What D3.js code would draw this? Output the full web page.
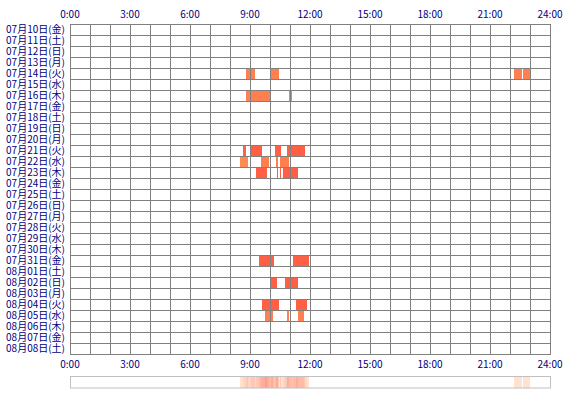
<!DOCTYPE html>
<html><head><meta charset="utf-8">
<script src="https://cdn.jsdelivr.net/npm/d3@7"></script>
<style>
html,body{margin:0;padding:0;background:#fff;}
svg{display:block;}
text{font-family:"Noto Sans CJK JP","Noto Sans",sans-serif;fill:#000080;}
</style></head>
<body>
<svg id="c" width="570" height="400"></svg>
<script>
// ---- data ----
const days = ["07月10日(金)","07月11日(土)","07月12日(日)","07月13日(月)","07月14日(火)","07月15日(水)",
  "07月16日(木)","07月17日(金)","07月18日(土)","07月19日(日)","07月20日(月)","07月21日(火)","07月22日(水)",
  "07月23日(木)","07月24日(金)","07月25日(土)","07月26日(日)","07月27日(月)","07月28日(火)","07月29日(水)",
  "07月30日(木)","07月31日(金)","08月01日(土)","08月02日(日)","08月03日(月)","08月04日(火)","08月05日(水)",
  "08月06日(木)","08月07日(金)","08月08日(土)"];
const hourTicks = ["0:00","3:00","6:00","9:00","12:00","15:00","18:00","21:00","24:00"];
// sessions: day label, start, end, tone level
const sessionDay   = ["07月14日(火)","07月14日(火)","07月14日(火)","07月14日(火)",
  "07月16日(木)","07月16日(木)",
  "07月21日(火)","07月21日(火)","07月21日(火)","07月21日(火)",
  "07月22日(水)","07月22日(水)","07月22日(水)","07月22日(水)",
  "07月23日(木)","07月23日(木)","07月23日(木)","07月23日(木)",
  "07月31日(金)","07月31日(金)",
  "08月02日(日)","08月02日(日)",
  "08月04日(火)","08月04日(火)",
  "08月05日(水)","08月05日(水)","08月05日(水)"];
const sessionStart = ["08:48","10:02","22:12","22:39",
  "08:48","10:57",
  "08:39","09:03","10:15","10:51",
  "08:30","09:33","10:18","10:30",
  "09:18","10:21","10:30","10:39",
  "09:27","11:09",
  "10:03","10:45",
  "09:36","11:18",
  "09:45","10:51","11:24"];
const sessionEnd   = ["09:15","10:27","22:36","23:00",
  "10:00","11:06",
  "08:48","09:36","10:33","11:45",
  "08:54","09:57","10:24","10:57",
  "09:51","10:24","10:33","11:24",
  "10:12","11:57",
  "10:21","11:24",
  "10:27","11:51",
  "10:09","10:57","11:42"];
const sessionTone  = [1,1,1,1, 1,1, 3,3,3,3, 0,1,1,1, 3,3,3,3, 3,3, 3,3, 3,3, 1,1,1];

// ---- drawing ----
const svg = d3.select("#c");
const toMin = s => { const [h,m] = s.split(":").map(Number); return h*60+m; };
const x = d3.scaleLinear().domain([0, 1440]).range([70, 550]);
const y = d3.scaleBand().domain(days).range([24, 354]).padding(0);
const tone = d3.scaleOrdinal().domain([0,1,2,3]).range(["#ff8a52","#ff7f50","#ff6a4a","#ff5f45"]);

const sessions = sessionDay.map((d,i)=>({day:d, s:toMin(sessionStart[i]), e:toMin(sessionEnd[i]), t:sessionTone[i]}));

svg.append("g").selectAll("rect").data(sessions).join("rect")
  .attr("x", d=>x(d.s)).attr("width", d=>x(d.e)-x(d.s))
  .attr("y", d=>y(d.day)).attr("height", y.bandwidth())
  .attr("fill", d=>tone(d.t)).attr("shape-rendering","crispEdges");

// grid
const grid = svg.append("g").attr("stroke","#808080").attr("stroke-width",1).attr("shape-rendering","crispEdges");
grid.selectAll("line.v").data(d3.range(0, 1441, 60)).join("line").attr("class","v")
  .attr("x1", d=>Math.round(x(d))+0.5).attr("x2", d=>Math.round(x(d))+0.5)
  .attr("y1", 24).attr("y2", 354.5);
const rowEdges = days.map(d=>y(d)).concat([354]);
grid.selectAll("line.h").data(rowEdges).join("line").attr("class","h")
  .attr("x1", 70).attr("x2", 551)
  .attr("y1", d=>Math.round(d)+0.5).attr("y2", d=>Math.round(d)+0.5);

// hour labels top & bottom
const tickVals = hourTicks.map(toMin);
[18, 368].forEach(yy=>{
  svg.append("g").selectAll("text").data(tickVals).join("text")
    .attr("x", d=>x(d)).attr("y", yy).attr("text-anchor","middle")
    .attr("font-size", 10).text((d,i)=>hourTicks[i]);
});

// day labels
svg.append("g").selectAll("text").data(days).join("text")
  .attr("x", 65).attr("y", d=>y(d)+y.bandwidth()/2+3.5)
  .attr("text-anchor","end").attr("font-size",10).text(d=>d);

// density strip (3-minute bins)
const bins = d3.range(0, 1440, 3).map(b=>{
  const days = new Set();
  sessions.forEach(s=>{ if (s.s < b+3 && s.e > b) days.add(s.day); });
  return {b, c: days.size};
});
const maxC = d3.max(bins, d=>d.c);
const heat = d3.scaleLinear().domain([1, maxC]).range(["#ffe2d0","#ffa08e"]);
svg.append("g").selectAll("rect").data(bins.filter(d=>d.c>0)).join("rect")
  .attr("x", d=>x(d.b)).attr("width", d=>x(d.b+3)-x(d.b))
  .attr("y", 377).attr("height", 11).attr("fill", d=>heat(d.c))
  .attr("shape-rendering","crispEdges");
svg.append("rect").attr("x", 70.5).attr("y", 376.5).attr("width", 480).attr("height", 11.5)
  .attr("fill","none").attr("stroke","#c0c0c0");
</script>
</body></html>
